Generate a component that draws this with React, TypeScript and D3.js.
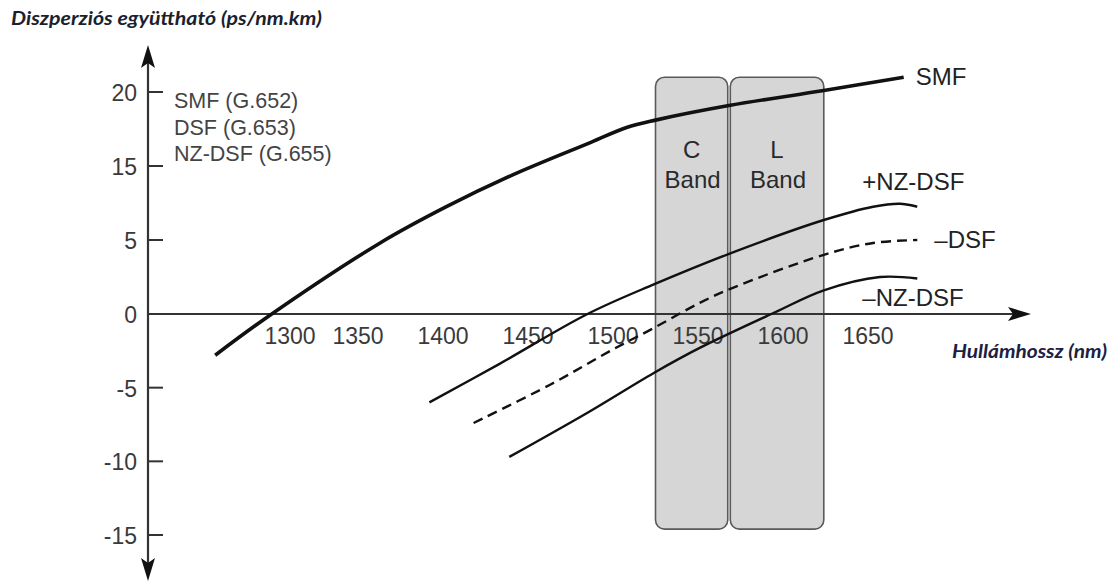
import React from "react";
import * as d3 from "d3";

// ---- Data ----
const wavelengthTicks = [1300, 1350, 1400, 1450, 1500, 1550, 1600, 1650];
const dispersionTicks = [20, 15, 5, 0, -5, -10, -15];
const dispersionTickLabels = ["20", "15", "5", "0", "-5", "-10", "-15"];

const legendLines = ["SMF (G.652)", "DSF (G.653)", "NZ-DSF (G.655)"];

const bandNames = ["C", "L"];
const bandStart = [1525, 1569];
const bandEnd = [1567.5, 1624];
const bandTop = 21.0;
const bandBottom = -14.6;

const smfWavelength = [1266, 1298, 1363, 1402, 1441, 1487, 1508, 1525, 1569, 1624, 1671];
const smfDispersion = [-2.8, -0.1, 4.8, 9.5, 13.8, 16.6, 17.6, 18.1, 19.1, 20.1, 21.0];

const plusNzWavelength = [1392, 1433, 1485, 1524, 1569, 1624, 1653, 1669, 1679];
const plusNzDispersion = [-6.0, -3.4, 0.0, 2.0, 4.1, 7.7, 9.5, 9.9, 9.5];

const dsfWavelength = [1418, 1463, 1500, 1524, 1551, 1569, 1624, 1653, 1679];
const dsfDispersion = [-7.4, -4.8, -2.4, -0.95, 0.75, 1.7, 4.0, 4.8, 5.0];

const minusNzWavelength = [1439, 1485, 1524, 1551, 1595, 1624, 1657, 1679];
const minusNzDispersion = [-9.7, -6.7, -4.0, -2.3, 0.1, 1.6, 2.5, 2.4];

const curveNames = ["SMF", "+NZ-DSF", "\u2013DSF", "\u2013NZ-DSF"];

export default function App() {
  const W = 1116;
  const H = 584;

  const x = d3.scaleLinear().domain([1300, 1650]).range([273, 868]);
  const y = d3.scaleLinear().domain([-15, 0, 5, 15, 20]).range([535, 314, 240, 166, 92]);

  const axisX = 148;
  const axisY = y(0);

  const line = d3
    .line<[number, number]>()
    .x((d) => x(d[0]))
    .y((d) => y(d[1]))
    .curve(d3.curveCatmullRom.alpha(0.5));

  const zip = (a: number[], b: number[]) => a.map((v, i) => [v, b[i]] as [number, number]);

  const series = [
    { pts: zip(smfWavelength, smfDispersion), width: 3.6, dash: null, dx: 12, dy: 8 },
    { pts: zip(plusNzWavelength, plusNzDispersion), width: 2.4, dash: null, dx: -55, dy: -17 },
    { pts: zip(dsfWavelength, dsfDispersion), width: 2.4, dash: "10,6", dx: 17, dy: 8 },
    { pts: zip(minusNzWavelength, minusNzDispersion), width: 2.4, dash: null, dx: -55, dy: 28 },
  ];

  const sans = "'Liberation Sans', Arial, Helvetica, sans-serif";
  const titleFont = "Lato, 'Open Sans', sans-serif";

  return (
    <svg
      width={W}
      height={H}
      viewBox={`0 0 ${W} ${H}`}
      style={{ position: "absolute", left: 0, top: 0, background: "#fff" }}
    >
      <rect x={0} y={0} width={W} height={H} fill="#fff" />

      {/* Bands */}
      {bandNames.map((n, i) => {
        const x0 = x(bandStart[i]);
        const x1 = x(bandEnd[i]);
        const cx = (x0 + x1) / 2;
        return (
          <g key={n}>
            <rect
              x={x0}
              y={y(bandTop)}
              width={x1 - x0}
              height={y(bandBottom) - y(bandTop)}
              rx={9}
              ry={9}
              fill="#d6d6d6"
              stroke="#5a5a5a"
              strokeWidth={1.6}
            />
            <text x={cx} y={158} textAnchor="middle" fontFamily={sans} fontSize={24} fill="#2a2a2a">
              {n}
            </text>
            <text x={cx + 1} y={188} textAnchor="middle" fontFamily={sans} fontSize={24} fill="#2a2a2a">
              Band
            </text>
          </g>
        );
      })}

      {/* Axes */}
      <line x1={axisX} x2={axisX} y1={55} y2={572} stroke="#333" strokeWidth={2.2} />
      <line x1={axisX} x2={1020} y1={axisY} y2={axisY} stroke="#333" strokeWidth={2.2} />
      <path d={`M${axisX},45 L${axisX - 7},68 L${axisX},63 L${axisX + 7},68 Z`} fill="#111" />
      <path d={`M${axisX},581 L${axisX - 7},558 L${axisX},563 L${axisX + 7},558 Z`} fill="#111" />
      <path d={`M1031,${axisY} L1008,${axisY - 7} L1013,${axisY} L1008,${axisY + 7} Z`} fill="#111" />

      {/* Y ticks */}
      {dispersionTicks.map((v, i) => (
        <g key={v}>
          <line x1={axisX} x2={axisX + 15} y1={y(v)} y2={y(v)} stroke="#333" strokeWidth={2} />
          <text x={137} y={y(v) + 9} textAnchor="end" fontFamily={sans} fontSize={23} fill="#3a3a3a">
            {dispersionTickLabels[i]}
          </text>
        </g>
      ))}

      {/* X tick labels */}
      {wavelengthTicks.map((v, i) => (
        <text
          key={v}
          x={x(v) + (i === 0 ? 17 : 0)}
          y={344}
          textAnchor="middle"
          fontFamily={sans}
          fontSize={23}
          fill="#3a3a3a"
        >
          {v}
        </text>
      ))}

      {/* Curves */}
      {series.map((s, i) => {
        const last = s.pts[s.pts.length - 1];
        return (
          <g key={curveNames[i]}>
            <path
              d={line(s.pts) || ""}
              fill="none"
              stroke="#111"
              strokeWidth={s.width}
              strokeDasharray={s.dash || undefined}
              strokeLinecap="butt"
            />
            <text
              x={x(last[0]) + s.dx}
              y={y(last[1]) + s.dy}
              fontFamily={sans}
              fontSize={24}
              fill="#222"
            >
              {curveNames[i]}
            </text>
          </g>
        );
      })}

      {/* Legend */}
      {legendLines.map((t, i) => (
        <text key={t} x={174} y={108 + i * 26.5} fontFamily={sans} fontSize={21.5} fill="#444">
          {t}
        </text>
      ))}

      {/* Titles */}
      <text
        x={11}
        y={25}
        fontFamily={titleFont}
        fontStyle="italic"
        fontWeight={700}
        fontSize={19}
        textLength={311}
        lengthAdjust="spacingAndGlyphs"
        fill="#1b1f2e"
      >
        Diszperziós együttható (ps/nm.km)
      </text>
      <text
        x={952}
        y={358}
        fontFamily={titleFont}
        fontStyle="italic"
        fontWeight={700}
        fontSize={18}
        textLength={155}
        lengthAdjust="spacingAndGlyphs"
        fill="#1b2140"
      >
        Hullámhossz (nm)
      </text>
    </svg>
  );
}
